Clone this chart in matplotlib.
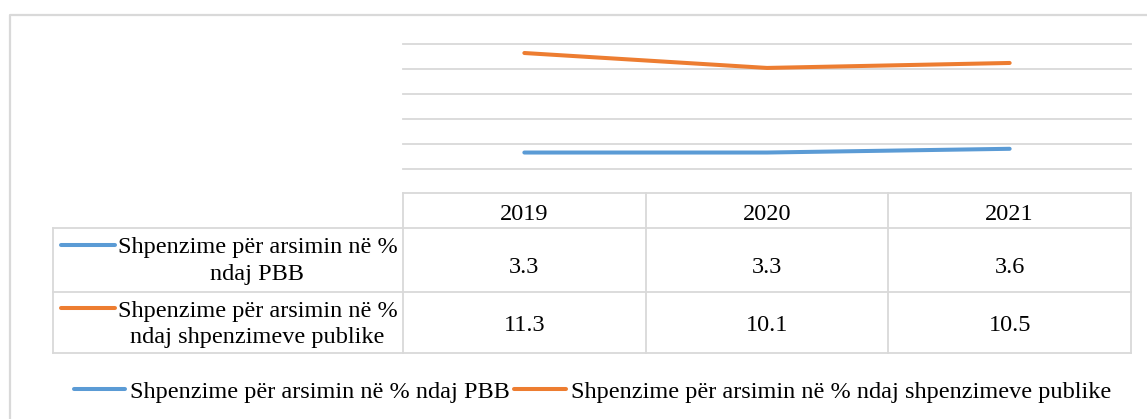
import numpy as np
import matplotlib
matplotlib.use('Agg')
import matplotlib.pyplot as plt

plt.rcParams['font.family'] = ['Liberation Serif', 'DejaVu Serif']

years = ['2019', '2020', '2021']
pbb = [3.3, 3.3, 3.6]
publike = [11.3, 10.1, 10.5]
names = ['Shpenzime për arsimin në % ndaj PBB',
         'Shpenzime për arsimin në % ndaj shpenzimeve publike']
row_labels = [('Shpenzime për arsimin në %', 'ndaj PBB'),
              ('Shpenzime për arsimin në %', 'ndaj shpenzimeve publike')]
colors = ['#5B9BD5', '#ED7D31']
grid_c = '#d9d9d9'

W, H = 1147, 419
fig = plt.figure(figsize=(W/100, H/100), dpi=100)

# overlay axes in pixel coordinates for frame, table and legend
ov = fig.add_axes([0, 0, 1, 1])
ov.set_xlim(0, W)
ov.set_ylim(H, 0)
ov.axis('off')

# main plot area
px_l, px_r, px_t, px_b = 403, 1131, 44.3, 168.7
ax = fig.add_axes([px_l/W, 1-px_b/H, (px_r-px_l)/W, (px_b-px_t)/H])
x = np.arange(len(years))
ax.set_xlim(-0.5, len(years)-0.5)
ax.set_ylim(2, 12)
ax.set_yticks(np.arange(2, 13, 2))
ax.grid(axis='y', color=grid_c, lw=1.3)
for gl in ax.get_ygridlines():
    gl.set_clip_on(False)
ax.tick_params(left=False, bottom=False, labelleft=False, labelbottom=False)
for s in ax.spines.values():
    s.set_visible(False)
ax.set_axisbelow(True)
ax.patch.set_alpha(0)
for vals, c in zip([pbb, publike], colors):
    ax.plot(x, vals, color=c, lw=2.9, solid_capstyle='round')

# outer chart frame (only top/left visible)
ov.plot([9.5, 9.5, W], [H, 15, 15], color=grid_c, lw=1.6)

# data table
fs = 17.5
col_w = (px_r - px_l) / len(years)
tab_l, hdr_t, hdr_b = 53, 193, 228
row_b = [292, 353]
lk = dict(color=grid_c, lw=1.3)
ov.plot([px_l, px_r], [hdr_t, hdr_t], **lk)
ov.plot([tab_l, px_r], [hdr_b, hdr_b], **lk)
for yb in row_b:
    ov.plot([tab_l, px_r], [yb, yb], **lk)
ov.plot([tab_l, tab_l], [hdr_b, row_b[-1]], **lk)
for i in range(len(years)+1):
    xx = px_l + i*col_w
    ov.plot([xx, xx], [hdr_t, row_b[-1]], **lk)
for i, yr in enumerate(years):
    ov.text(px_l + (i+0.5)*col_w, 220, yr, fontsize=fs,
            ha='center', va='baseline')

val_base = [273, 331]
lab_base = [(253, 280), (316.5, 343)]
icon_y = [245, 308]
for r, (vals, lab, c) in enumerate(zip([pbb, publike], row_labels, colors)):
    ov.text(258, lab_base[r][0], lab[0], fontsize=fs, ha='center', va='baseline')
    ov.text(257, lab_base[r][1], lab[1], fontsize=fs, ha='center', va='baseline')
    ov.plot([61, 115], [icon_y[r]]*2, color=c, lw=2.9, solid_capstyle='round')
    for i, v in enumerate(vals):
        ov.text(px_l + (i+0.5)*col_w, val_base[r], f'{v:.1f}', fontsize=fs,
                ha='center', va='baseline')

# legend
ly = 389
leg_x = [(74, 125), (514, 566)]
for (x0, x1), c, n in zip(leg_x, colors, names):
    ov.plot([x0, x1], [ly, ly], color=c, lw=2.9, solid_capstyle='round')
    ov.text(x1+5, 397.5, n, fontsize=fs, ha='left', va='baseline')

plt.savefig('out.png', dpi=100)
